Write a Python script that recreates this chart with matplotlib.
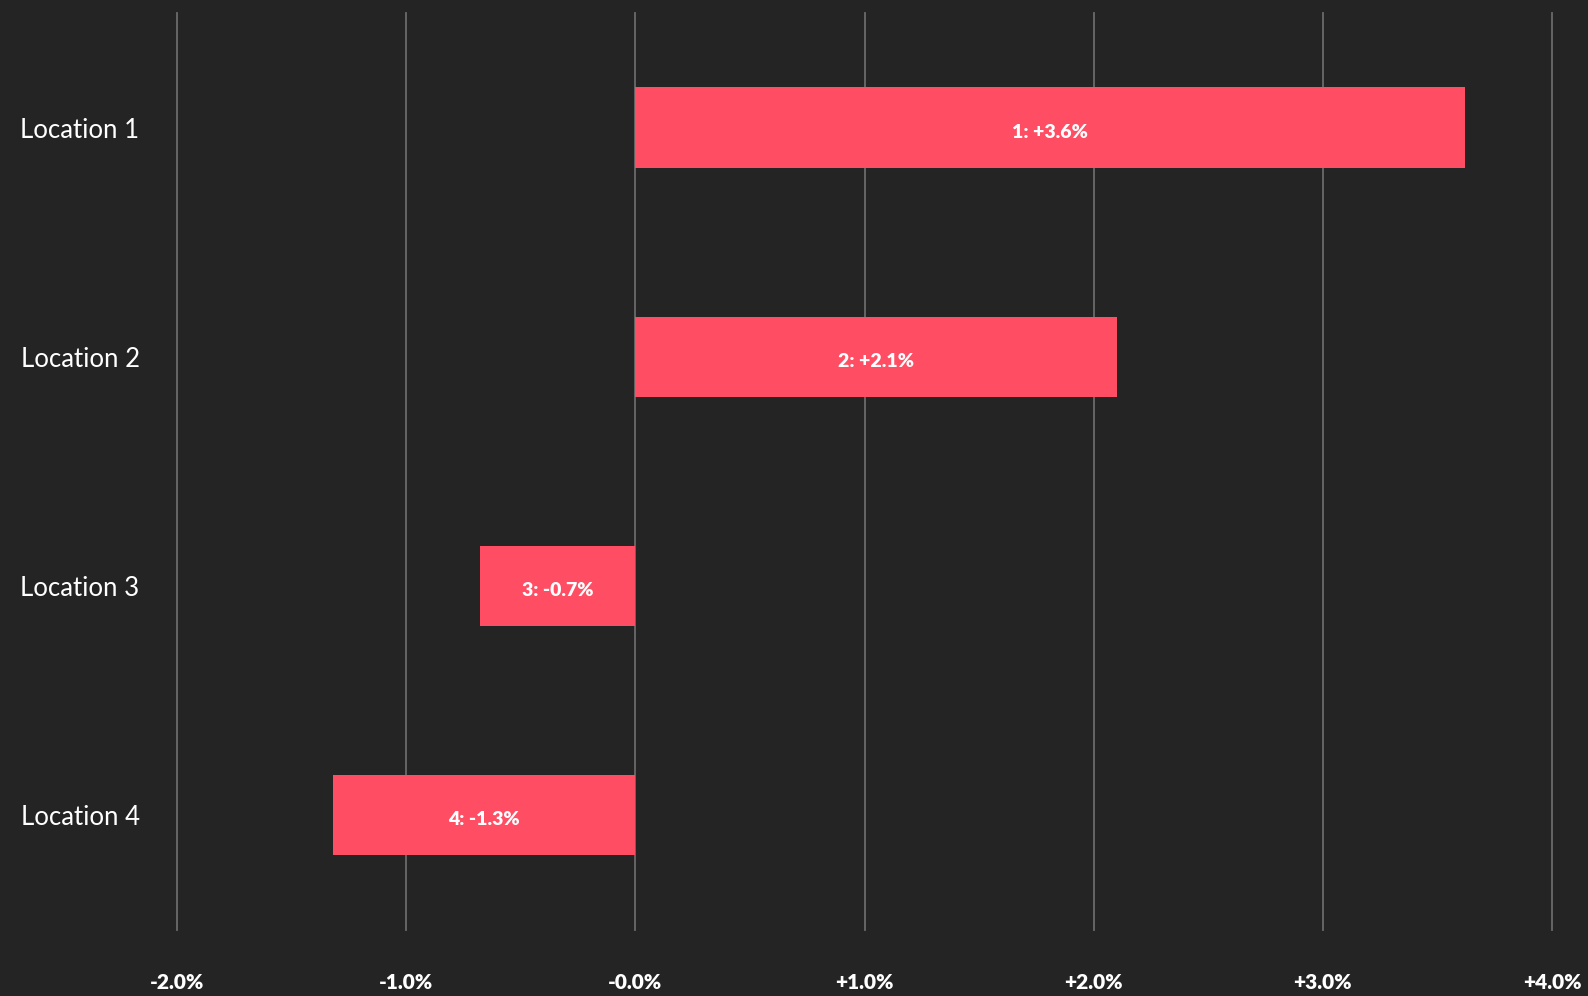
import numpy as np
import matplotlib
matplotlib.use("Agg")
import matplotlib.pyplot as plt

# data
locations = ["Location 1", "Location 2", "Location 3", "Location 4"]
changes = [3.62, 2.1, -0.68, -1.32]
bar_labels = ["1: +3.6%", "2: +2.1%", "3: -0.7%", "4: -1.3%"]
xticks = [-2.0, -1.0, 0.0, 1.0, 2.0, 3.0, 4.0]
xtick_labels = ["-2.0%", "-1.0%", "-0.0%", "+1.0%", "+2.0%", "+3.0%", "+4.0%"]

bg = "#242424"
bar_color = "#FF4D63"
grid_color = "#6a6a6a"

fig = plt.figure(figsize=(15.88, 9.96), dpi=100, facecolor=bg)
ax = fig.add_axes([0.1115, 0.0663, 0.8658, 0.9207])
ax.set_facecolor(bg)

ypos = np.arange(len(locations))
bars = ax.barh(ypos, changes, height=0.35, color=bar_color, zorder=3)

for b, lab in zip(bars, bar_labels):
    cx = b.get_x() + b.get_width() / 2
    cy = b.get_y() + b.get_height() / 2
    ax.text(cx, cy + 0.02, lab, ha="center", va="center", color="white",
            fontsize=14, fontweight="heavy", family="Lato", zorder=4)

ax.set_xlim(-2.0, 4.0)
ax.set_ylim(3.5, -0.5)
ax.set_xticks(xticks)
ax.set_xticklabels(xtick_labels, fontsize=15, fontweight="heavy", family="Lato", color="white")
ax.set_yticks(ypos)
ax.set_yticklabels(locations, fontsize=18.5, fontweight="normal", family="Lato", color="white")
ax.tick_params(axis="x", length=0, pad=31)
ax.tick_params(axis="y", length=0, pad=27)

for x in xticks:
    ax.axvline(x, color=grid_color, lw=1.3, zorder=1, clip_on=False)

for s in ax.spines.values():
    s.set_visible(False)

fig.savefig("out.png", dpi=100, facecolor=bg)
